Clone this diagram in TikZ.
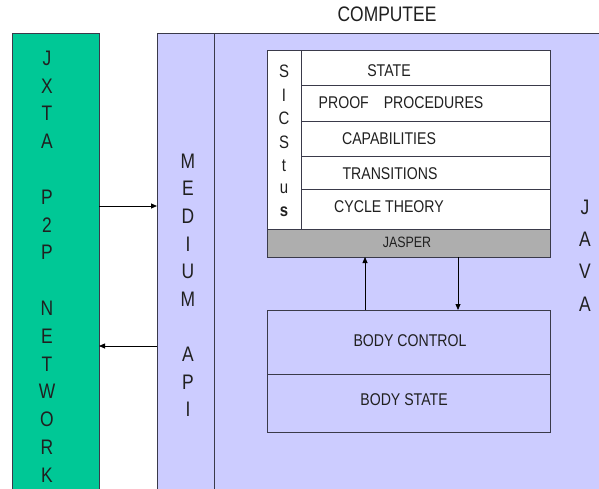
\documentclass[tikz,border=0pt]{standalone}
\usepackage{fontspec}
\setmainfont{Liberation Sans}[FakeStretch=0.83]
\usetikzlibrary{arrows.meta}
\definecolor{jxgreen}{HTML}{00C896}
\definecolor{lav}{HTML}{CCCCFF}
\definecolor{jgray}{HTML}{AEAEAE}
\definecolor{edge}{HTML}{3A3A4A}
\definecolor{ink}{HTML}{202020}
\begin{document}
\begin{tikzpicture}[x=1pt,y=-1pt,
  box/.style={draw=edge, line width=0.8pt, rectangle, anchor=north west, inner sep=0pt, outer sep=0pt},
  vlet/.style={font=\fontsize{21}{21}\selectfont, text=ink, inner sep=0pt},
  slet/.style={font=\fontsize{18}{18}\selectfont, text=ink, inner sep=0pt},
  lbl/.style={font=\fontsize{17}{17}\selectfont, text=ink, inner sep=0pt},
  arr/.style={draw=black, line width=0.8pt, -{Triangle[length=6pt,width=5pt]}},
]
\clip (0,0) rectangle (599,489);
\fill[white] (0,0) rectangle (599,489);
% JXTA network column
\node[box, fill=jxgreen, minimum width=87pt, minimum height=470pt] (jxta) at (12,33) {};
% COMPUTEE / JAVA area and MEDIUM API column
\node[box, fill=lav, minimum width=450pt, minimum height=470pt] (comp) at (157,33) {};
\node[box, fill=lav, minimum width=57pt, minimum height=470pt] (medium) at (157,33) {};
\node[font=\fontsize{21}{21}\selectfont, text=ink, inner sep=0pt] (title) at (387,14) {COMPUTEE};
% SICStus block
\node[box, fill=white, minimum width=34pt, minimum height=179pt] (sic) at (267,50) {};
\node[box, fill=white, minimum width=249pt, minimum height=35pt] (state) at (301,50) {};
\node[box, fill=white, minimum width=249pt, minimum height=36pt] (proof) at (301,85) {};
\node[box, fill=white, minimum width=249pt, minimum height=35pt] (capab) at (301,121) {};
\node[box, fill=white, minimum width=249pt, minimum height=33pt] (trans) at (301,156) {};
\node[box, fill=white, minimum width=249pt, minimum height=40pt] (cycle) at (301,189) {};
\node[box, fill=jgray, minimum width=283pt, minimum height=28pt] (jasper) at (267,229) {};
% Body
\node[box, fill=lav, minimum width=283pt, minimum height=64pt] (bodyc) at (267,310) {};
\node[box, fill=lav, minimum width=283pt, minimum height=58pt] (bodys) at (267,374) {};
% labels
\node[lbl] (tstate) at (389,71) {STATE};
\node[lbl] (tproof) at (401,103) {PROOF\hspace{11pt} PROCEDURES};
\node[lbl] (tcapab) at (389,139) {CAPABILITIES};
\node[lbl] (ttrans) at (390,174) {TRANSITIONS};
\node[lbl] (tcycle) at (389,207) {CYCLE THEORY};
\node[lbl, font=\fontsize{15}{15}\selectfont] (tjasper) at (407,242) {JASPER};
\node[lbl, font=\fontsize{17}{17}\selectfont] (tbodyc) at (410,341) {BODY CONTROL};
\node[lbl, font=\fontsize{17}{17}\selectfont] (tbodys) at (404,400) {BODY STATE};
% vertical letters
\foreach \l/\k [count=\n] in {J/0,X/1,T/2,A/3,P/5,2/6,P/7,N/9,E/10,T/11,W/12,O/13,R/14,K/15}
  \node[vlet] (jx\n) at (47,{58+27.8*\k}) {\l};
\foreach \l/\k [count=\n] in {M/0,E/1,D/2,I/3,U/4,M/5,A/7,P/8,I/9}
  \node[vlet] (md\n) at (188,{161+27.6*\k}) {\l};
\foreach \l/\k [count=\n] in {S/0,I/1,C/2,S/3,t/4,u/5,\textbf{s}/6}
  \node[slet] (sc\n) at (284,{71.7+23.4*\k}) {\l};
\foreach \l/\k [count=\n] in {J/0,A/1,V/2,A/3}
  \node[vlet] (jv\n) at (585,{207+32.3*\k}) {\l};
% connectors
\draw[arr] (jxta.east |- 0,206) -- (medium.west |- 0,206);
\draw[arr] (medium.west |- 0,346) -- (jxta.east |- 0,346);
\draw[arr] (bodyc.north -| 365,0) -- (jasper.south -| 365,0);
\draw[arr] (jasper.south -| 458,0) -- (bodyc.north -| 458,0);
\end{tikzpicture}
\end{document}
